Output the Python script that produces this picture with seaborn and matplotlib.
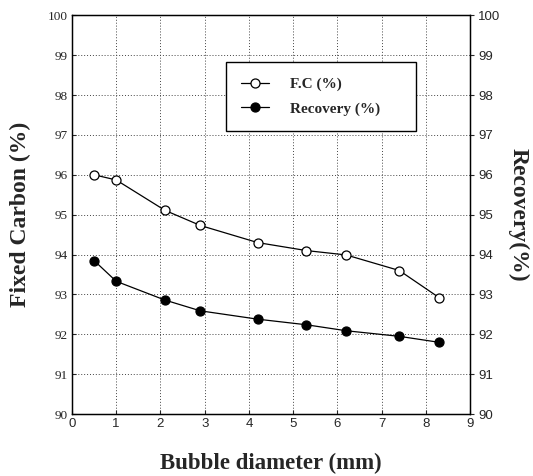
import matplotlib
matplotlib.use("Agg")
import matplotlib.pyplot as plt
import seaborn as sns
import pandas as pd

bubble_diameter = [0.5, 1.0, 2.1, 2.9, 4.2, 5.3, 6.2, 7.4, 8.3]
fixed_carbon = [96.0, 95.87, 95.11, 94.73, 94.3, 94.1, 93.99, 93.6, 92.92]
recovery = [93.85, 93.33, 92.86, 92.59, 92.38, 92.24, 92.09, 91.95, 91.8]
x_ticks = [0, 1, 2, 3, 4, 5, 6, 7, 8, 9]
y_ticks = [90, 91, 92, 93, 94, 95, 96, 97, 98, 99, 100]

sns.set_style("ticks")
plt.rcParams["font.family"] = ["Liberation Serif", "DejaVu Serif"]

df = pd.DataFrame({"d": bubble_diameter, "fc": fixed_carbon, "rec": recovery})

fig = plt.figure(figsize=(5.33, 4.76), dpi=100)
ax = fig.add_axes([0.135, 0.130, 0.747, 0.838])

sns.lineplot(data=df, x="d", y="fc", ax=ax, color="black", linewidth=0.9,
             marker="o", markersize=6.5, markerfacecolor="white",
             markeredgecolor="black", markeredgewidth=0.9, label="F.C (%)")
sns.lineplot(data=df, x="d", y="rec", ax=ax, color="black", linewidth=0.9,
             marker="o", markersize=6.5, markerfacecolor="black",
             markeredgecolor="black", markeredgewidth=0.9, label="Recovery (%)")

ax.set_xlim(0, 9)
ax.set_ylim(90, 100)
ax.set_xticks(x_ticks)
ax.set_yticks(y_ticks)
ax.grid(True, linestyle=(0, (1, 2)), color="#444444", linewidth=0.7)
ax.set_axisbelow(True)
for s in ax.spines.values():
    s.set_color("black")
    s.set_linewidth(1.0)
    s.set_visible(True)

ax.tick_params(axis="x", direction="in", length=3, labelsize=9.5, pad=3,
               labelfontfamily="Liberation Sans")
ax.tick_params(axis="y", direction="in", length=3, labelsize=9.5, pad=3,
               labelfontfamily="Liberation Serif")

ax.set_xlabel("Bubble diameter (mm)", fontsize=16.5, fontweight="bold", labelpad=16)
ax.set_ylabel("Fixed Carbon (%)", fontsize=17, fontweight="bold", labelpad=12)

ax2 = ax.twinx()
ax2.set_ylim(90, 100)
ax2.set_yticks(y_ticks)
ax2.tick_params(axis="y", direction="out", length=3, labelsize=9.5, pad=3,
                labelfontfamily="Liberation Sans")
ax2.set_ylabel("Recovery(%)", fontsize=17, fontweight="bold", rotation=-90, labelpad=20)
for s in ax2.spines.values():
    s.set_color("black")

leg = ax.legend(loc="upper left", bbox_to_anchor=(0.387, 0.712, 0.477, 0.17),
                mode="expand", frameon=True,
                fancybox=False, edgecolor="black", framealpha=1,
                prop={"family": "Liberation Serif", "weight": "bold", "size": 11},
                handlelength=1.8, borderpad=1.0, labelspacing=0.7, handletextpad=1.4,
                borderaxespad=0)
leg.get_frame().set_linewidth(1.0)

fig.savefig("out.png", dpi=100)
